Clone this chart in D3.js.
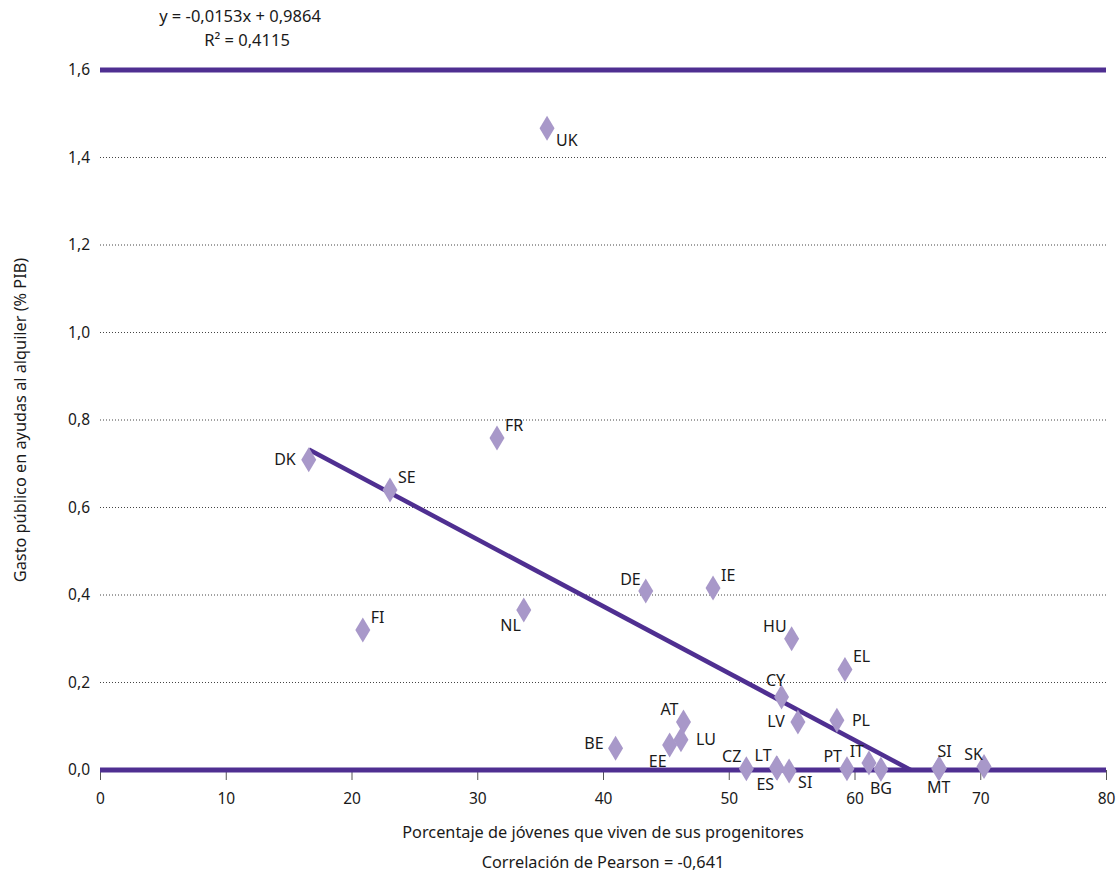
<!DOCTYPE html>
<html><head><meta charset="utf-8">
<script src="https://cdn.jsdelivr.net/npm/d3@7"></script>
<style>body{margin:0;background:#fff}svg{display:block}text{font-family:"Noto Sans",sans-serif;fill:#1a1a1a}</style>
</head><body><svg id="c" width="1119" height="872"></svg>
<script>
const countries = ["UK","FR","DK","SE","FI","NL","DE","IE","HU","EL","CY","LV","PL","AT","LU","EE","BE","CZ","LT","ES","SI","PT","IT","BG","MT","SI","SK"];
const youthShare = [35.55,31.57,16.6,23.06,20.9,33.7,43.4,48.75,55.0,59.24,54.2,55.5,58.6,46.4,46.2,45.3,41.0,51.4,53.8,53.85,54.8,59.4,61.15,62.1,66.7,66.75,70.3];
const rentAid = [1.467,0.759,0.709,0.64,0.32,0.366,0.409,0.416,0.30,0.23,0.167,0.11,0.114,0.11,0.069,0.057,0.05,0.003,0.005,0.004,-0.002,0.003,0.016,0.002,0.003,0.004,0.008];
// label placement keyword per point
const labelPlace = ["br","tr","l","tr","tr","bl","tl","tr","tl","tr","t","l","r","tl","r","bl","lu","tl","tl","bl","br","tl","tl","b","b","t2","tk"];
const xTicks = [0,10,20,30,40,50,60,70,80];
const yTicks = [0,0.2,0.4,0.6,0.8,1.0,1.2,1.4,1.6];
const slope = -0.0153, intercept = 0.9864;
const equationText = "y = -0,0153x + 0,9864";
const r2Text = "R² = 0,4115";
const xTitle = "Porcentaje de jóvenes que viven de sus progenitores";
const pearsonText = "Correlación de Pearson = -0,641";
const yTitle = "Gasto público en ayudas al alquiler (% PIB)";

const svg = d3.select("#c");
const L = 100, R = 1106, T = 70, B = 770;
const x = d3.scaleLinear().domain([0,80]).range([L,R]);
const y = d3.scaleLinear().domain([0,1.6]).range([B,T]);
const dark = "#4f2f91", light = "#a898c9";
const fmt = v => d3.format(".1f")(v).replace(".", ",");
const FS = "16px";

// grid
svg.append("g").selectAll("line").data(yTicks.filter(v => v > 0 && v < 1.6)).join("line")
  .attr("x1", L).attr("x2", R).attr("y1", d => y(d)).attr("y2", d => y(d))
  .attr("stroke", "#444").attr("stroke-width", 1).attr("stroke-dasharray", "1,2");

// x axis ticks
const xa = svg.append("g").attr("transform", `translate(0,${B})`)
  .call(d3.axisBottom(x).tickValues(xTicks).tickSize(10).tickPadding(13).tickFormat(d => d));
xa.select(".domain").remove();
xa.selectAll(".tick line").attr("stroke", "#555");
xa.selectAll("text").style("font-size", "15.5px").attr("fill", "#1a1a1a");

// y axis labels
const ya = svg.append("g").attr("transform", `translate(${L},0)`)
  .call(d3.axisLeft(y).tickValues(yTicks).tickSize(0).tickPadding(10).tickFormat(fmt));
ya.select(".domain").remove();
ya.selectAll("text").style("font-size", "15.5px").attr("fill", "#1a1a1a");

// thick lines at 0 and 1.6
svg.append("g").selectAll("line").data([0,1.6]).join("line")
  .attr("x1", L).attr("x2", R).attr("y1", d => y(d)).attr("y2", d => y(d))
  .attr("stroke", dark).attr("stroke-width", 5);

// trend line
const xStart = d3.min(youthShare), xEnd = -intercept / slope;
svg.append("line")
  .attr("x1", x(xStart)).attr("y1", y(slope*xStart+intercept))
  .attr("x2", x(xEnd)).attr("y2", y(0))
  .attr("stroke", dark).attr("stroke-width", 4.5);

// points
const pts = countries.map((c,i) => ({c, x: youthShare[i], y: rentAid[i], p: labelPlace[i]}));
svg.append("g").selectAll("path").data(pts).join("path")
  .attr("transform", d => `translate(${x(d.x)},${y(d.y)})`)
  .attr("d", "M0,-12.5L7.5,0L0,12.5L-7.5,0Z").attr("fill", light);

const off = {
  r: [15, 0, "start"], l: [-13, 0, "end"], lu: [-12, -5, "end"], tr: [8, -13, "start"], tl: [-5, -12, "end"],
  br: [9, 12, "start"], bl: [-3, 16, "end"], t: [-6, -17, "middle"], b: [0, 19, "middle"],
  t2: [-2, -17, "start"], tk: [-1, -12, "end"]
};
svg.append("g").selectAll("text").data(pts).join("text")
  .attr("x", d => x(d.x) + off[d.p][0]).attr("y", d => y(d.y) + off[d.p][1])
  .attr("dy", "0.35em").attr("text-anchor", d => off[d.p][2])
  .style("font-size", FS).text(d => d.c);

// titles
svg.append("text").attr("x", 240).attr("y", 16).attr("dy", "0.35em").attr("text-anchor","middle").style("font-size","16.5px").text(equationText);
svg.append("text").attr("x", 247).attr("y", 40).attr("dy", "0.35em").attr("text-anchor","middle").style("font-size","16.5px").text(r2Text);
svg.append("text").attr("x", 603).attr("y", 832).attr("dy", "0.35em").attr("text-anchor","middle").style("font-size","16.3px").text(xTitle);
svg.append("text").attr("x", 603).attr("y", 862).attr("dy", "0.35em").attr("text-anchor","middle").style("font-size","16.3px").text(pearsonText);
svg.append("text").attr("transform", `translate(20,${(T+B)/2}) rotate(-90)`).attr("dy","0.35em").attr("text-anchor","middle").style("font-size","16.3px").text(yTitle);
</script></body></html>
